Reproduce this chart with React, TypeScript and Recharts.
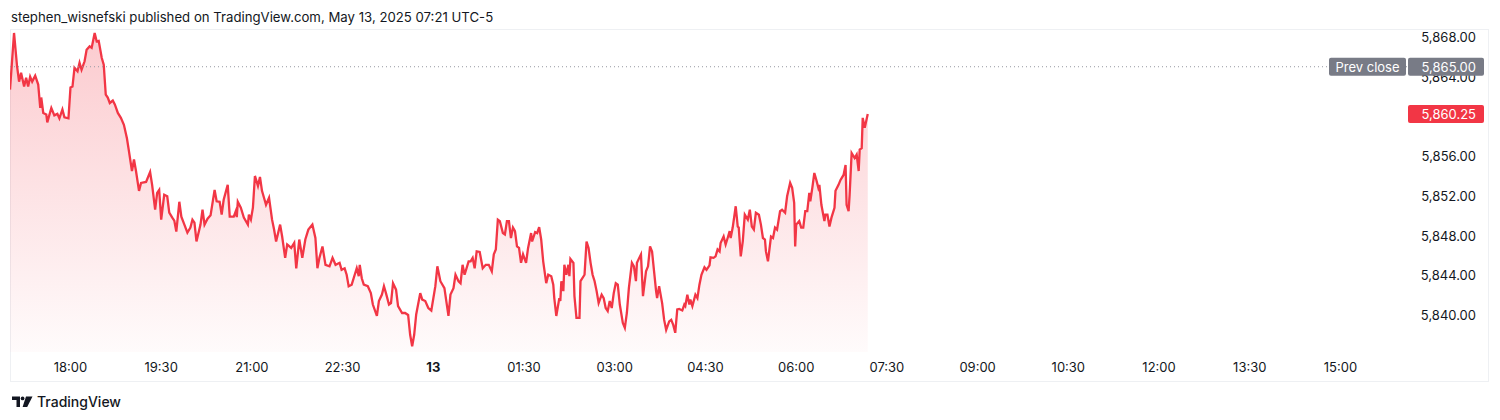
import React from 'react';
import { ComposedChart, Area, XAxis, YAxis, ReferenceLine } from 'recharts';

const minutes = [
  0, 4, 7, 9, 11, 14, 16, 18, 20, 22, 25, 28, 30, 31, 33, 36, 37, 41, 44, 47, 49, 52, 54, 58, 60, 62, 64, 67, 69, 71, 74, 76, 79, 81, 82, 84, 86, 88, 91, 93, 95, 97, 99, 102, 104, 107, 110, 113, 116, 118, 121, 123, 125, 128, 130, 135, 139, 141, 144, 146, 148, 150, 153, 156, 158, 161, 163, 165, 168, 170, 173, 176, 179, 181, 183, 185, 189, 191, 193, 196, 199, 203, 205, 208, 210, 212, 216, 218, 222, 224, 225, 226, 229, 232, 236, 237, 239, 241, 243, 246, 248, 250, 252, 254, 257, 260, 262, 264, 268, 270, 273, 275, 279, 282, 284, 287, 290, 293, 296, 300, 303, 305, 307, 310, 313, 317, 320, 323, 327, 329, 332, 334, 336, 339, 342, 344, 346, 347, 349, 351, 355, 358, 360, 364, 366, 369, 371, 373, 376, 378, 380, 383, 385, 389, 392, 395, 397, 399, 401, 403, 407, 409, 412, 415, 418, 422, 424, 427, 431, 435, 437, 440, 442, 445, 447, 449, 451, 455, 457, 459, 461, 463, 466, 469, 472, 475, 478, 480, 482, 484, 486, 489, 491, 493, 495, 497, 499, 501, 503, 505, 507, 509, 512, 514, 517, 518, 521, 523, 525, 527, 529, 532, 534, 537, 539, 540, 542, 545, 546, 547, 549, 550, 552, 554, 555, 556, 559, 560, 562, 565, 566, 570, 572, 574, 576, 578, 580, 582, 584, 587, 589, 591, 593, 595, 597, 599, 601, 603, 605, 608, 610, 612, 614, 617, 619, 621, 622, 625, 626, 628, 631, 633, 635, 637, 639, 641, 642, 644, 647, 649, 651, 654, 656, 658, 660, 662, 664, 667, 669, 670, 672, 674, 675, 677, 680, 682, 684, 686, 689, 691, 694, 695, 698, 700, 702, 704, 705, 708, 710, 712, 714, 715, 717, 720, 722, 723, 725, 727, 729, 732, 734, 736, 738, 740, 743, 745, 747, 749, 750, 752, 755, 757, 759, 761, 764, 766, 769, 771, 774, 776, 778, 779, 780, 783, 785, 787, 789, 791, 793, 794, 796, 798, 800, 802, 803, 805, 808, 809, 811, 813, 815, 818, 819, 822, 824, 827, 829, 830, 832, 833, 835, 838, 840, 842, 843, 845, 846, 848, 851,
];

const prices = [
  5862.7, 5868.4, 5865.05, 5863.5, 5864.4, 5863.0, 5863.9, 5863.0, 5864.0, 5863.5, 5864.1, 5863.2, 5860.85, 5861.9, 5860.35, 5860.2, 5859.4, 5860.85, 5860.1, 5860.25, 5859.8, 5860.7, 5859.9, 5859.8, 5862.9, 5863.0, 5864.9, 5864.55, 5865.4, 5864.7, 5865.55, 5866.7, 5867.05, 5866.9, 5867.4, 5868.4, 5867.55, 5867.6, 5865.9, 5865.2, 5862.2, 5861.9, 5861.35, 5861.6, 5861.2, 5860.35, 5859.85, 5859.15, 5857.8, 5856.5, 5854.5, 5855.65, 5854.5, 5852.5, 5853.3, 5853.4, 5854.4, 5853.1, 5850.6, 5852.3, 5852.6, 5849.6, 5852.1, 5851.95, 5850.3, 5849.8, 5849.5, 5848.4, 5851.4, 5849.9, 5849.1, 5848.3, 5848.8, 5849.6, 5849.3, 5847.4, 5849.1, 5850.6, 5849.1, 5849.7, 5850.05, 5852.6, 5851.45, 5851.4, 5850.1, 5851.6, 5853.1, 5849.9, 5849.9, 5850.45, 5849.85, 5851.4, 5850.8, 5849.8, 5849.1, 5850.1, 5849.6, 5850.8, 5854.0, 5853.0, 5853.9, 5852.5, 5851.8, 5851.1, 5851.8, 5849.6, 5848.6, 5847.4, 5849.1, 5847.9, 5845.75, 5847.1, 5846.75, 5847.25, 5844.7, 5847.6, 5845.75, 5847.6, 5848.6, 5849.1, 5847.75, 5844.7, 5845.75, 5846.9, 5845.05, 5844.9, 5845.75, 5845.05, 5845.25, 5844.55, 5844.7, 5844.05, 5842.9, 5843.05, 5844.05, 5844.7, 5843.9, 5845.05, 5843.7, 5843.05, 5842.9, 5842.2, 5841.05, 5839.9, 5841.4, 5842.05, 5842.9, 5842.2, 5841.05, 5841.2, 5843.2, 5842.55, 5840.9, 5840.2, 5840.2, 5840.0, 5838.0, 5836.85, 5838.0, 5840.05, 5842.2, 5841.55, 5841.4, 5840.7, 5840.45, 5842.9, 5844.9, 5843.4, 5842.7, 5839.9, 5842.05, 5842.7, 5844.05, 5843.4, 5843.2, 5845.05, 5844.05, 5845.4, 5845.4, 5845.75, 5844.7, 5846.4, 5846.35, 5844.7, 5845.05, 5845.05, 5844.4, 5846.1, 5846.6, 5849.6, 5849.45, 5848.25, 5848.1, 5849.45, 5849.45, 5847.75, 5848.8, 5848.45, 5846.9, 5846.75, 5845.25, 5846.1, 5845.25, 5846.75, 5848.25, 5847.4, 5848.35, 5848.25, 5848.85, 5847.6, 5845.4, 5843.2, 5844.05, 5843.9, 5843.05, 5841.7, 5839.9, 5841.7, 5841.4, 5843.4, 5842.4, 5845.05, 5844.05, 5845.05, 5843.9, 5845.65, 5845.25, 5841.9, 5839.7, 5839.7, 5843.4, 5844.05, 5847.4, 5846.75, 5845.25, 5844.05, 5843.4, 5842.4, 5841.2, 5842.05, 5841.7, 5840.7, 5840.4, 5841.4, 5840.7, 5842.2, 5843.2, 5843.05, 5841.05, 5839.2, 5838.7, 5840.2, 5842.7, 5845.25, 5844.9, 5843.4, 5845.25, 5845.9, 5846.1, 5841.9, 5844.4, 5844.9, 5846.9, 5846.4, 5844.4, 5842.4, 5841.7, 5842.9, 5841.2, 5839.5, 5838.5, 5839.35, 5839.5, 5839.0, 5838.2, 5840.55, 5840.6, 5840.45, 5841.05, 5840.9, 5842.05, 5841.05, 5841.55, 5840.9, 5842.05, 5841.7, 5843.05, 5844.05, 5844.8, 5844.55, 5845.0, 5845.8, 5845.75, 5845.9, 5846.6, 5846.4, 5847.25, 5847.9, 5847.1, 5847.75, 5848.45, 5847.75, 5848.8, 5850.95, 5848.9, 5848.8, 5845.9, 5847.4, 5850.1, 5849.6, 5850.6, 5848.9, 5848.6, 5850.3, 5850.1, 5849.1, 5847.75, 5847.6, 5846.4, 5845.4, 5847.9, 5847.75, 5848.8, 5848.6, 5850.45, 5850.6, 5850.3, 5851.95, 5853.3, 5852.8, 5851.3, 5846.9, 5849.1, 5849.45, 5848.8, 5848.8, 5850.45, 5850.45, 5852.3, 5851.45, 5852.8, 5854.3, 5853.6, 5852.8, 5853.1, 5851.1, 5849.45, 5850.1, 5850.1, 5848.9, 5849.8, 5850.8, 5852.5, 5853.1, 5853.6, 5854.1, 5855.1, 5851.1, 5850.45, 5852.1, 5856.3, 5855.8, 5856.15, 5854.5, 5856.65, 5856.8, 5859.85, 5858.85, 5860.25,
];

const timeTicks = [60, 150, 240, 330, 420, 510, 600, 690, 780, 870, 960, 1050, 1140, 1230, 1320];
const timeLabels = ['18:00', '19:30', '21:00', '22:30', '13', '01:30', '03:00', '04:30', '06:00', '07:30', '09:00', '10:30', '12:00', '13:30', '15:00'];
const priceTicks = [5840, 5844, 5848, 5852, 5856, 5860, 5864, 5868];
const prevClose = 5865;
const lastPrice = 5860.25;
const sessionMinutes = 1386;
const priceDomain = [5836.27, 5868.7];
const title = 'stephen_wisnefski published on TradingView.com, May 13, 2025 07:21 UTC-5';
const brand = 'TradingView';

const data = minutes.map((m, i) => ({ m, p: prices[i] }));

const FONT = 'Inter, "Noto Sans", "DejaVu Sans", sans-serif';
const TEXT = '#131722';
const RED = '#F23645';
const GRAY_BOX = '#787B86';

const fmt = (v: number) =>
  v.toLocaleString('en-US', { minimumFractionDigits: 2, maximumFractionDigits: 2 });

const labelFor = (v: number) => {
  const i = timeTicks.indexOf(v);
  return i >= 0 ? timeLabels[i] : '';
};

const XTick = (props: any) => {
  const { x, y, payload } = props;
  const lbl = labelFor(payload.value);
  return (
    <text
      x={x}
      y={y + 15}
      textAnchor="middle"
      dominantBaseline="central"
      fontFamily={FONT}
      fontSize={13}
      fontWeight={lbl === '13' ? 700 : 400}
      fill={TEXT}
    >
      {lbl}
    </text>
  );
};

const YTick = (props: any) => {
  const { x, y, payload } = props;
  return (
    <text
      x={x + 69}
      y={y}
      textAnchor="end"
      dominantBaseline="central"
      fontFamily={FONT}
      fontSize={13}
      fill={TEXT}
    >
      {fmt(payload.value)}
    </text>
  );
};

const PrevCloseLabel = (props: any) => {
  const vb = props.viewBox || {};
  const right = vb.x + vb.width;
  const cy = vb.y;
  return (
    <g>
      <rect x={right - 78} y={cy - 9} width={77} height={18} rx={2} fill={GRAY_BOX} />
      <text x={right - 39.5} y={cy} textAnchor="middle" dominantBaseline="central" fontFamily={FONT} fontSize={13} fill="#ffffff">
        Prev close
      </text>
      <rect x={right + 1} y={cy - 9} width={76} height={18} rx={2} fill={GRAY_BOX} />
      <text x={right + 69} y={cy} textAnchor="end" dominantBaseline="central" fontFamily={FONT} fontSize={13} fill="#ffffff">
        {fmt(prevClose)}
      </text>
    </g>
  );
};

const LastPriceLabel = (props: any) => {
  const vb = props.viewBox || {};
  const right = vb.x + vb.width;
  const cy = vb.y;
  return (
    <g>
      <rect x={right + 1} y={cy - 9} width={76} height={18} rx={2} fill={RED} />
      <text x={right + 69} y={cy} textAnchor="end" dominantBaseline="central" fontFamily={FONT} fontSize={13} fill="#ffffff">
        {fmt(lastPrice)}
      </text>
    </g>
  );
};

const Logo = () => (
  <svg width={21} height={12} viewBox="0 0 21 12" style={{ display: 'block' }}>
    <path d="M0 0.5 H8 V11 H4.5 V4 H0 Z" fill={TEXT} />
    <circle cx={10.6} cy={2.4} r={1.9} fill={TEXT} />
    <path d="M14 0.5 H20.5 L15.2 11 H10.6 Z" fill={TEXT} />
  </svg>
);

const MARGIN = { top: 30, right: 12, bottom: 39, left: 10 };
const OVERLAY_MARGIN = { top: 30, right: 93, bottom: 68, left: 10 };

export default function App() {
  return (
    <div style={{ position: 'absolute', left: 0, top: 0, width: 1500, height: 420, background: '#ffffff', fontFamily: FONT, overflow: 'hidden' }}>
      <div style={{ position: 'absolute', left: 11, top: 8, fontSize: 13.2, color: TEXT, lineHeight: '18px', whiteSpace: 'nowrap' }}>
        {title}
      </div>
      <div style={{ position: 'absolute', left: 10, top: 29, width: 1477, height: 351, border: '1px solid #eef0f3', boxSizing: 'content-box' }} />
      <div style={{ position: 'absolute', left: 0, top: 0 }}>
        <ComposedChart width={1500} height={420} data={data} margin={MARGIN}>
          <defs>
            <linearGradient id="areaFill" x1="0" y1="0" x2="0" y2="1">
              <stop offset="0%" stopColor={RED} stopOpacity={0.26} />
              <stop offset="100%" stopColor={RED} stopOpacity={0.02} />
            </linearGradient>
          </defs>
          <XAxis
            dataKey="m"
            type="number"
            domain={[0, sessionMinutes]}
            ticks={timeTicks}
            tick={<XTick />}
            tickLine={false}
            axisLine={false}
            tickSize={0}
            tickMargin={0}
            height={29}
            interval={0}
            allowDataOverflow
          />
          <YAxis
            orientation="right"
            type="number"
            domain={priceDomain}
            ticks={priceTicks}
            tick={<YTick />}
            tickLine={false}
            axisLine={false}
            tickSize={0}
            tickMargin={0}
            width={81}
            interval={0}
            allowDataOverflow
          />
          <ReferenceLine y={prevClose} stroke="#9598a1" strokeDasharray="1 3" strokeWidth={1} />
          <Area
            type="linear"
            dataKey="p"
            stroke={RED}
            strokeWidth={2.3}
            fill="url(#areaFill)"
            fillOpacity={1}
            isAnimationActive={false}
            dot={false}
            activeDot={false}
          />
        </ComposedChart>
      </div>
      <div style={{ position: 'absolute', left: 0, top: 0 }}>
        <ComposedChart width={1500} height={420} data={data} margin={OVERLAY_MARGIN}>
          <XAxis dataKey="m" type="number" domain={[0, sessionMinutes]} hide allowDataOverflow />
          <YAxis type="number" domain={priceDomain} hide allowDataOverflow />
          <ReferenceLine y={prevClose} stroke="none" strokeOpacity={0} label={<PrevCloseLabel />} />
          <ReferenceLine y={lastPrice} stroke="none" strokeOpacity={0} label={<LastPriceLabel />} />
        </ComposedChart>
      </div>
      <div style={{ position: 'absolute', left: 12, top: 394, display: 'flex', alignItems: 'center', gap: 4 }}>
        <Logo />
        <span style={{ fontSize: 14, color: TEXT, lineHeight: '16px', fontWeight: 500 }}>{brand}</span>
      </div>
    </div>
  );
}
